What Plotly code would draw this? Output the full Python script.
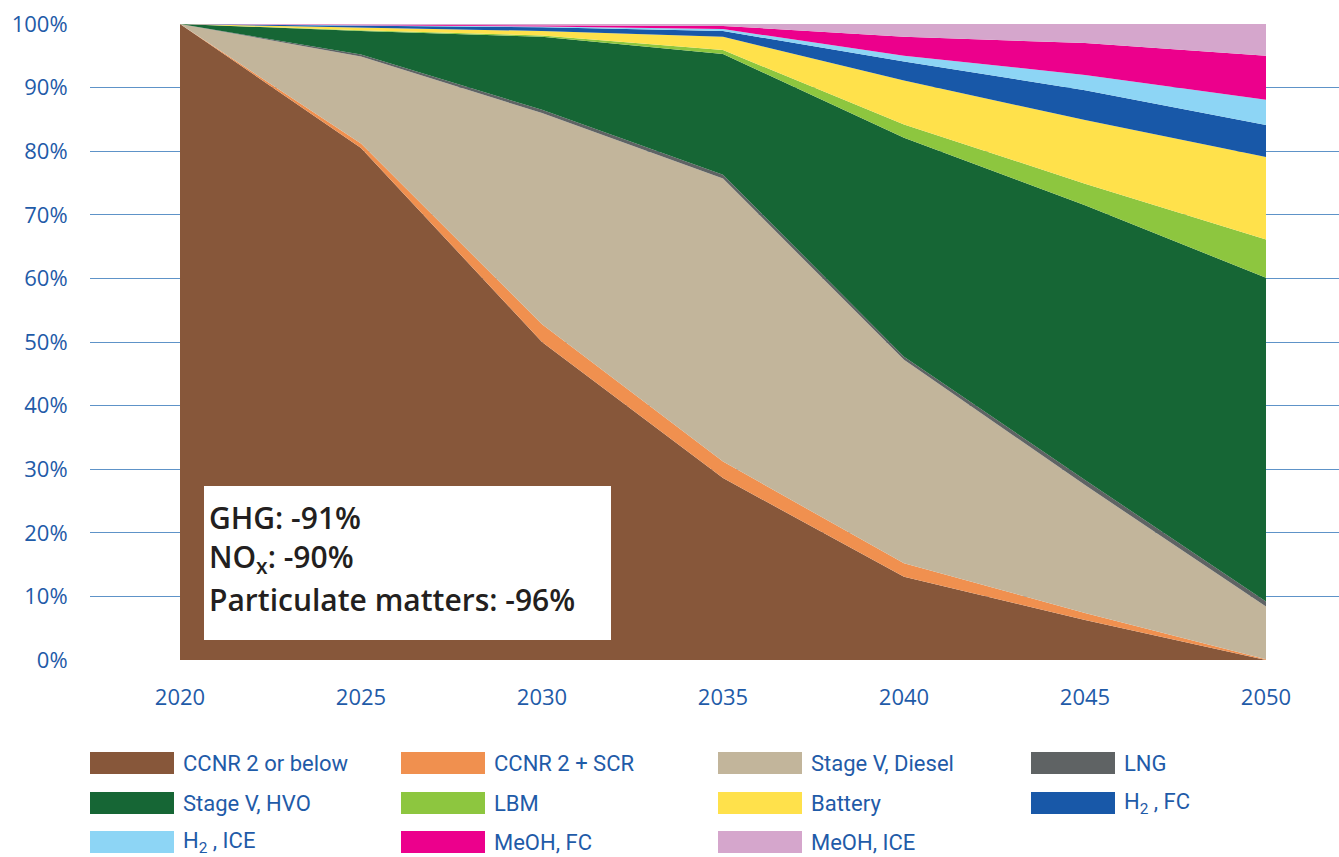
import plotly.graph_objects as go

years = [2020, 2025, 2030, 2035, 2040, 2045, 2050]

series_names = ["CCNR 2 or below", "CCNR 2 + SCR", "Stage V, Diesel", "LNG",
                "Stage V, HVO", "LBM", "Battery", "H<sub>2</sub> , FC",
                "H<sub>2</sub> , ICE", "MeOH, FC", "MeOH, ICE"]

ccnr2 = [100, 80.5, 50.0, 28.6, 13.1, 6.3, 0.0]
ccnr2_scr = [0, 0.7, 2.8, 2.6, 2.1, 1.1, 0.1]
stage_v_diesel = [0, 13.7, 33.2, 44.5, 32.0, 20.1, 8.3]
lng = [0, 0.3, 0.5, 0.6, 0.5, 0.8, 0.8]
stage_v_hvo = [0, 3.7, 11.5, 19.0, 34.4, 43.2, 50.9]
lbm = [0, 0.1, 0.2, 0.6, 2.1, 3.4, 6.0]
battery = [0, 0.4, 0.7, 2.1, 6.9, 10.0, 13.0]
h2_fc = [0, 0.3, 0.6, 0.9, 3.0, 4.7, 5.0]
h2_ice = [0, 0.1, 0.1, 0.3, 0.9, 2.4, 4.0]
meoh_fc = [0, 0.1, 0.25, 0.5, 3.0, 5.0, 6.9]
meoh_ice = [0, 0.1, 0.15, 0.3, 2.0, 3.0, 5.0]

series_values = [ccnr2, ccnr2_scr, stage_v_diesel, lng, stage_v_hvo, lbm,
                 battery, h2_fc, h2_ice, meoh_fc, meoh_ice]

colors = ["#87573A", "#F0904F", "#C2B59B", "#5F6364", "#166635", "#8DC63F",
          "#FFE14B", "#1858A8", "#8DD5F5", "#EC008C", "#D5A6CC"]

y_ticks = list(range(0, 101, 10))
y_tick_labels = [f"{v}%" for v in y_ticks]

box_lines = ["GHG: -91%", "NO<sub>x</sub>: -90%", "Particulate matters: -96%"]

W, H = 1339, 857
L, R, T, B = 90, 0, 24, 197
PW, PH = W - L - R, H - T - B

def px_x(x):
    return (x - L) / PW

def px_y(y):
    return (H - B - y) / PH

fig = go.Figure()
for name, vals, col in zip(series_names, series_values, colors):
    fig.add_trace(go.Scatter(
        x=years, y=vals, name=name, mode="lines",
        stackgroup="one", line=dict(width=0, color=col),
        fillcolor=col, showlegend=False, hoverinfo="x+y+name"))

blue = "#1F5BA8"

# Custom legend (4 columns x 3 rows)
col_x = [90, 401, 718, 1031]
row_y = [763, 803, 842]
for i, (name, col) in enumerate(zip(series_names, colors)):
    r, c = divmod(i, 4)
    x0 = col_x[c]
    yc = row_y[r]
    fig.add_shape(type="rect", xref="paper", yref="paper",
                  x0=px_x(x0), x1=px_x(x0 + 84),
                  y0=px_y(yc + 11), y1=px_y(yc - 11),
                  fillcolor=col, line=dict(width=0), layer="above")
    fig.add_annotation(xref="paper", yref="paper", x=px_x(x0 + 91), y=px_y(yc),
                       text=name, showarrow=False, xanchor="left", yanchor="middle",
                       font=dict(family="Roboto, sans-serif", size=22, color=blue))

# Summary box
fig.add_shape(type="rect", xref="paper", yref="paper",
              x0=px_x(204), x1=px_x(611), y0=px_y(640), y1=px_y(486),
              fillcolor="white", line=dict(width=0), layer="above")
for j, txt in enumerate(box_lines):
    fig.add_annotation(xref="paper", yref="paper", x=px_x(207), y=px_y(517 + 41 * j),
                       text=txt, showarrow=False, xanchor="left", yanchor="middle",
                       font=dict(family="Open Sans, sans-serif", size=30, weight=600,
                                 color="#231F20"))

fig.update_layout(
    width=W, height=H,
    margin=dict(l=L, r=R, t=T, b=B, pad=0),
    paper_bgcolor="white", plot_bgcolor="white",
    showlegend=False,
    xaxis=dict(range=[2020 - (180 - L) / 36.2, 2050 + (W - 1266) / 36.2],
               tickvals=years, ticktext=[str(y) for y in years],
               showgrid=False, zeroline=False, showline=False,
               ticks="outside", ticklen=18, tickcolor="rgba(0,0,0,0)",
               tickfont=dict(family="Open Sans, sans-serif", size=22, weight=500, color=blue)),
    yaxis=dict(range=[0, 100], tickvals=y_ticks, ticktext=y_tick_labels,
               showgrid=True, gridcolor="#5E93C8", gridwidth=1.3,
               zeroline=False, showline=False,
               ticks="outside", ticklen=17, tickcolor="rgba(0,0,0,0)",
               tickfont=dict(family="Open Sans, sans-serif", size=22, weight=500, color=blue)),
)

fig.write_html("out.html", config={"displayModeBar": False},
               post_script="document.body.style.margin='0';document.body.style.overflow='hidden';")
